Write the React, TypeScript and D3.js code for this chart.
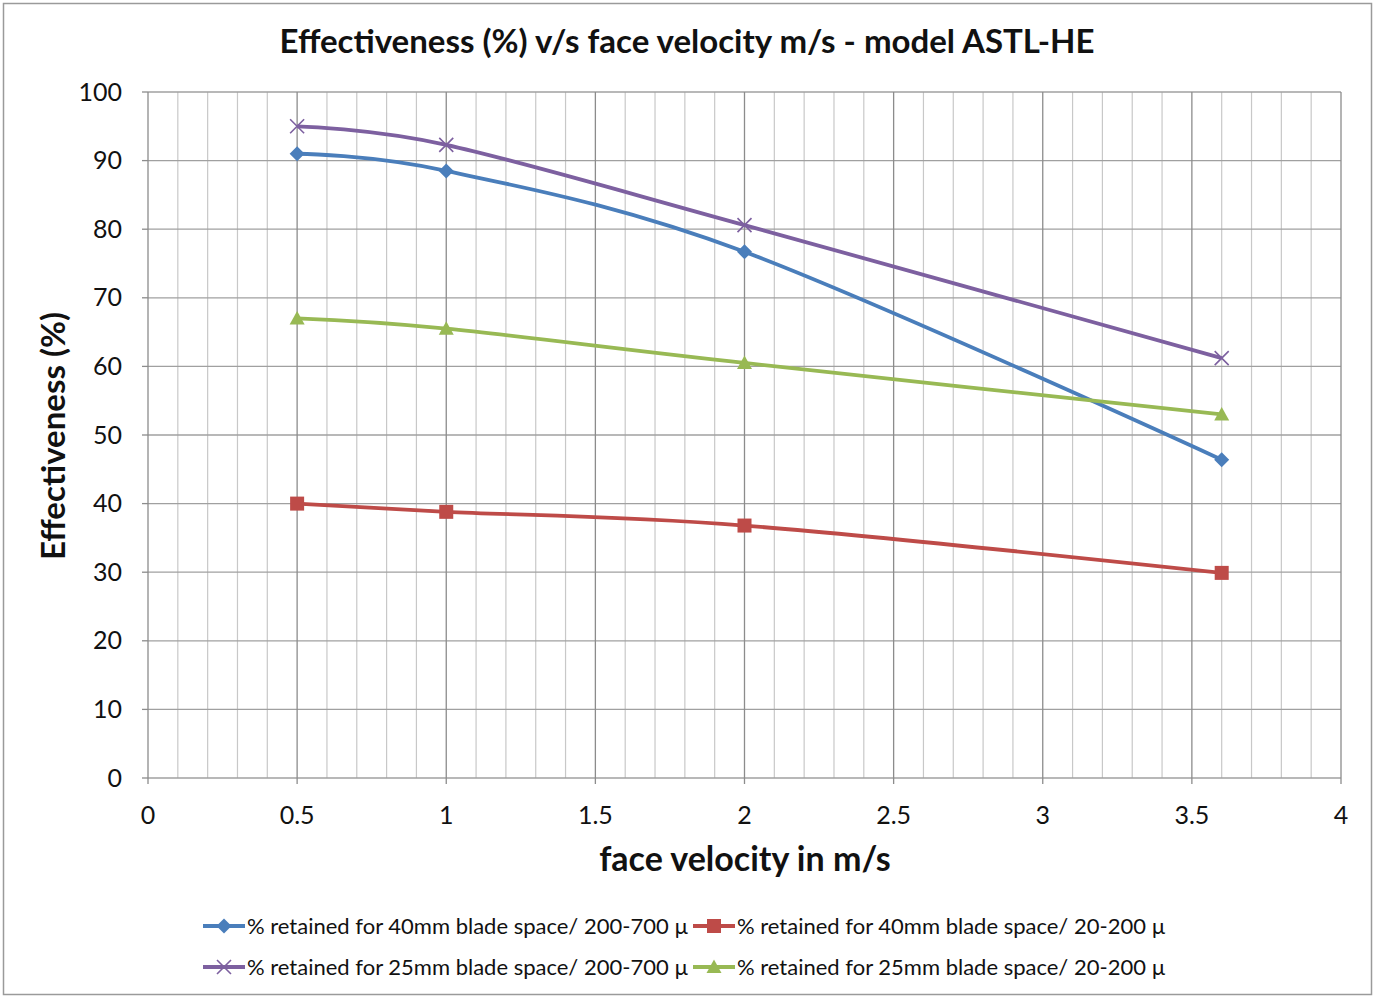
import React from "react";
import * as d3 from "d3";

const velocities = [0.5, 1, 2, 3.6];
const blue40Coarse = [91, 88.5, 76.7, 46.4];
const red40Fine = [40, 38.8, 36.8, 29.9];
const purple25Coarse = [95, 92.3, 80.6, 61.2];
const green25Fine = [67, 65.5, 60.5, 53];
const xTicks = [0, 0.5, 1, 1.5, 2, 2.5, 3, 3.5, 4];
const yTicks = [0, 10, 20, 30, 40, 50, 60, 70, 80, 90, 100];

const seriesNames = [
  "% retained for 40mm blade space/ 200-700 µ",
  "% retained for 40mm blade space/ 20-200 µ",
  "% retained for 25mm blade space/ 200-700 µ",
  "% retained for 25mm blade space/ 20-200 µ",
];

const W = 1376, H = 997;
const left = 148, right = 1341, top = 92, bottom = 778;
const FONT = "Lato, 'Open Sans', sans-serif";

type Series = { name: string; values: number[]; color: string; marker: string };

const series: Series[] = [
  { name: seriesNames[0], values: blue40Coarse, color: "#4A7EBB", marker: "diamond" },
  { name: seriesNames[1], values: red40Fine, color: "#BE4B48", marker: "square" },
  { name: seriesNames[2], values: purple25Coarse, color: "#7D60A0", marker: "x" },
  { name: seriesNames[3], values: green25Fine, color: "#98B954", marker: "triangle" },
];

function Marker({ type, x, y, color }: { type: string; x: number; y: number; color: string }) {
  if (type === "diamond") {
    const s = 7.5;
    return <path d={`M${x},${y - s}L${x + s},${y}L${x},${y + s}L${x - s},${y}Z`} fill={color} />;
  }
  if (type === "square") {
    const s = 7;
    return <rect x={x - s} y={y - s} width={2 * s} height={2 * s} fill={color} />;
  }
  if (type === "triangle") {
    const s = 7.5;
    return <path d={`M${x},${y - s}L${x + s},${y + s * 0.8}L${x - s},${y + s * 0.8}Z`} fill={color} />;
  }
  const s = 7;
  return (
    <path
      d={`M${x - s},${y - s}L${x + s},${y + s}M${x - s},${y + s}L${x + s},${y - s}`}
      stroke={color}
      strokeWidth={1.6}
      fill="none"
    />
  );
}

export default function App() {
  const x = d3.scaleLinear().domain([0, 4]).range([left, right]);
  const y = d3.scaleLinear().domain([0, 100]).range([bottom, top]);
  const minor = d3.range(0, 41).map((i) => i / 10);
  const line = d3
    .line<number>()
    .x((_, i) => x(velocities[i]))
    .y((d) => y(d))
    .curve(d3.curveCardinal.tension(0));

  const legendRows = [
    [series[0], series[1]],
    [series[2], series[3]],
  ];
  const legendX = [203, 693];
  const legendY = [926, 967];

  return (
    <svg width={W} height={H} style={{ position: "absolute", left: 0, top: 0, background: "#fff" }}>
      <rect x={3.5} y={3.5} width={1368} height={991} fill="#fff" stroke="#9a9a9a" strokeWidth={1.5} />
      <text x={687} y={53} textAnchor="middle" fontFamily={FONT} fontWeight="bold" fontSize={33} fill="#111">
        Effectiveness (%) v/s face velocity m/s - model ASTL-HE
      </text>
      {minor.map((v, i) =>
        i % 5 === 0 ? null : (
          <line key={"m" + i} x1={x(v)} x2={x(v)} y1={top} y2={bottom} stroke="#c8c8c8" strokeWidth={1.2} />
        )
      )}
      {yTicks.map((v) => (
        <line key={"h" + v} x1={left} x2={right} y1={y(v)} y2={y(v)} stroke="#a0a0a0" strokeWidth={1.3} />
      ))}
      {xTicks.map((v) => (
        <line key={"v" + v} x1={x(v)} x2={x(v)} y1={top} y2={bottom + 6} stroke="#8c8c8c" strokeWidth={1.3} />
      ))}
      {yTicks.map((v) => (
        <line key={"yt" + v} x1={left - 6} x2={left} y1={y(v)} y2={y(v)} stroke="#8c8c8c" strokeWidth={1.3} />
      ))}
      {yTicks.map((v) => (
        <text key={"yl" + v} x={left - 26} y={y(v) + 8.5} textAnchor="end" fontFamily={FONT} fontSize={25} fill="#111">
          {v}
        </text>
      ))}
      {xTicks.map((v) => (
        <text key={"xl" + v} x={x(v)} y={824} textAnchor="middle" fontFamily={FONT} fontSize={25} fill="#111">
          {v}
        </text>
      ))}
      <text x={745} y={871} textAnchor="middle" fontFamily={FONT} fontWeight="bold" fontSize={34} fill="#111">
        face velocity in m/s
      </text>
      <text
        transform={`translate(65,436) rotate(-90)`}
        textAnchor="middle"
        fontFamily={FONT}
        fontWeight="bold"
        fontSize={33}
        fill="#111"
      >
        Effectiveness (%)
      </text>
      {series.map((s) => (
        <g key={s.name}>
          <path d={line(s.values) || ""} fill="none" stroke={s.color} strokeWidth={3.8} />
          {s.values.map((v, i) => (
            <Marker key={i} type={s.marker} x={x(velocities[i])} y={y(v)} color={s.color} />
          ))}
        </g>
      ))}
      {legendRows.map((row, r) =>
        row.map((s, c) => (
          <g key={s.name}>
            <line x1={legendX[c]} x2={legendX[c] + 42} y1={legendY[r]} y2={legendY[r]} stroke={s.color} strokeWidth={3.8} />
            <Marker type={s.marker} x={legendX[c] + 21} y={legendY[r]} color={s.color} />
            <text x={legendX[c] + 44} y={legendY[r] + 7.5} fontFamily={FONT} fontSize={22} fill="#111">
              {s.name}
            </text>
          </g>
        ))
      )}
    </svg>
  );
}
